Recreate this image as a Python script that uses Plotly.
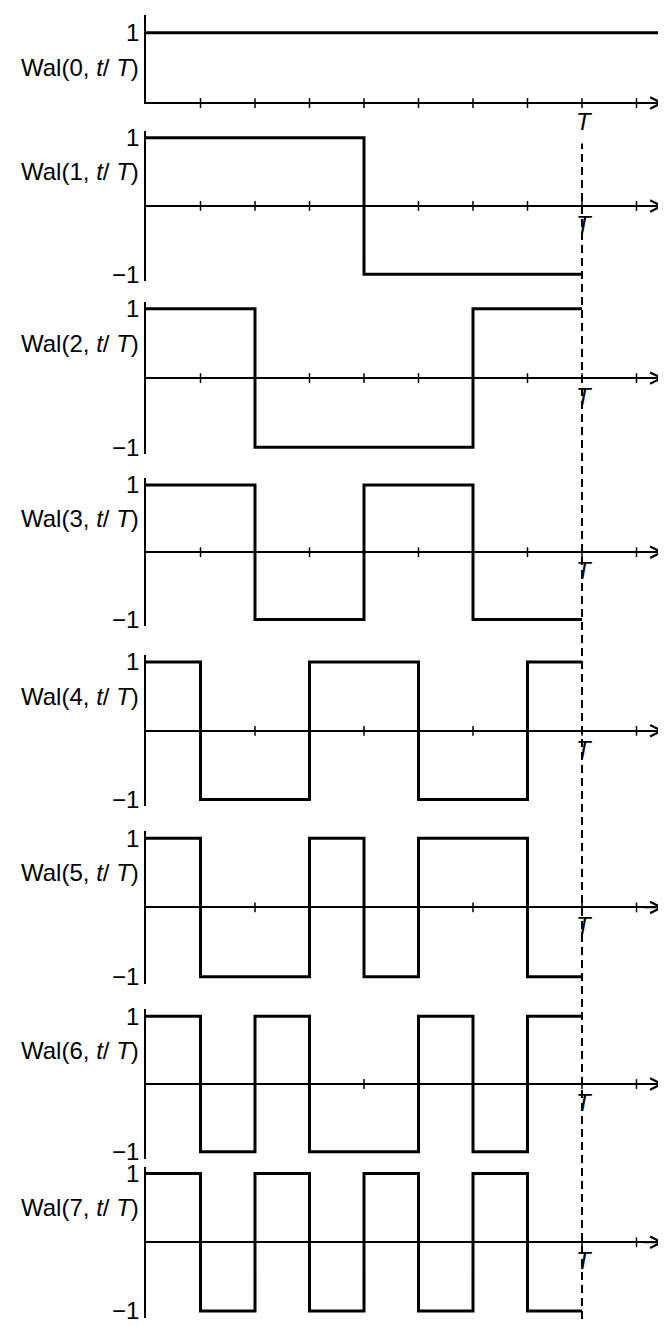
import plotly.graph_objects as go

# ---------------- data ----------------
t_edges = [0, 0.125, 0.25, 0.375, 0.5, 0.625, 0.75, 0.875, 1.0]   # t/T segment edges
wal_0 = [1, 1, 1, 1, 1, 1, 1, 1]
wal_1 = [1, 1, 1, 1, -1, -1, -1, -1]
wal_2 = [1, 1, -1, -1, -1, -1, 1, 1]
wal_3 = [1, 1, -1, -1, 1, 1, -1, -1]
wal_4 = [1, -1, -1, 1, 1, -1, -1, 1]
wal_5 = [1, -1, -1, 1, -1, 1, 1, -1]
wal_6 = [1, -1, 1, -1, -1, 1, -1, 1]
wal_7 = [1, -1, 1, -1, 1, -1, 1, -1]
walsh = [wal_0, wal_1, wal_2, wal_3, wal_4, wal_5, wal_6, wal_7]
labels = ["Wal(%d, <i>t</i>/ <i>T</i>)" % k for k in range(8)]
tick_positions = [0.125, 0.25, 0.375, 0.5, 0.625, 0.75, 0.875, 1.0, 1.125]
T_value = 1.0

# ---------------- layout geometry (screen pixels) ----------------
SW, SH = 666, 1326          # screen size
OFF = 8                      # page body margin
W, H = SW - OFF, SH - OFF    # figure size


def px_x(X):
    return (X - OFF) / W


def px_y(Y):
    return 1 - (Y - OFF) / H


x0_px, T_px = 146, 582
x_scale = (T_px - x0_px) / T_value
x_max = (SW - 2 - x0_px) / x_scale

# screen pixel row of y=+1 and y=-1 for each panel
p_top = [26, 132, 305, 483, 662, 840, 1020, 1179]
p_bot = [168, 270, 445, 619, 801, 980, 1157, 1318]

FONT = "Liberation Sans, Arial, sans-serif"
fsize = 24

fig = go.Figure()
layout = dict(
    width=W, height=H, margin=dict(l=0, r=0, t=0, b=0),
    paper_bgcolor="white", plot_bgcolor="rgba(0,0,0,0)",
    showlegend=False,
    xaxis=dict(domain=[px_x(x0_px), px_x(SW - 2)], range=[0, x_max], showgrid=False,
               zeroline=False, showline=False, showticklabels=False, ticks=""),
)
annotations = []

for k in range(8):
    yname = "y" if k == 0 else "y%d" % (k + 1)
    yax = "yaxis" if k == 0 else "yaxis%d" % (k + 1)
    u = (p_bot[k] - p_top[k]) / 2.0
    p0 = (p_bot[k] + p_top[k]) / 2.0
    if k == 0:
        u = 71
        p0 = 97
        r_lo, r_hi = -0.02, 1.25
        tv, tt = [1], ["1"]
    else:
        r_lo, r_hi = -1.1, 1.1
        tv, tt = [1, -1], ["1", "\u22121"]
    top_px = p0 - r_hi * u
    bot_px = min(SH, p0 - r_lo * u)
    dom = [max(0, px_y(bot_px)), min(1, px_y(top_px))]
    layout[yax] = dict(domain=dom, range=[r_lo, r_hi], anchor="x",
                       showgrid=False, zeroline=True, zerolinecolor="black",
                       zerolinewidth=1.7, showline=True, linecolor="black",
                       linewidth=1.6, tickvals=tv, ticktext=tt, ticks="",
                       tickfont=dict(family=FONT, size=fsize, color="black"))

    vals = walsh[k]
    xs = list(t_edges)
    ys = list(vals) + [vals[-1]]
    if k == 0:
        xs = xs + [x_max]
        ys = ys + [vals[-1]]
    fig.add_trace(go.Scatter(x=xs, y=ys, xaxis="x", yaxis=yname, mode="lines",
                             line=dict(color="black", width=3, shape="hv"),
                             hoverinfo="skip"))
    # small tick marks on the time axis
    fig.add_trace(go.Scatter(x=tick_positions, y=[0] * len(tick_positions),
                             xaxis="x", yaxis=yname, mode="markers",
                             marker=dict(symbol="line-ns", size=7,
                                         line=dict(color="black", width=1.5)),
                             hoverinfo="skip", cliponaxis=False))
    # arrow head at right end of the time axis
    annotations.append(dict(x=x_max, y=0, ax=x_max - 0.05, ay=0,
                            xref="x", yref=yname, axref="x", ayref=yname,
                            text="", showarrow=True, arrowhead=5,
                            arrowsize=1.4, arrowwidth=1.6, arrowcolor="black"))
    # T label
    annotations.append(dict(x=T_value, y=0, xref="x", yref=yname,
                            text="<i>T</i>", showarrow=False, xanchor="center",
                            yanchor="top", yshift=-3, xshift=2,
                            font=dict(family=FONT, size=fsize, color="black")))
    # panel label
    annotations.append(dict(x=px_x(x0_px - 5), y=0.5, xref="paper", yref=yname,
                            text=labels[k], showarrow=False, xanchor="right",
                            yanchor="middle",
                            font=dict(family=FONT, size=fsize, color="black")))

layout["annotations"] = annotations
layout["shapes"] = [dict(type="line", xref="x", yref="paper",
                         x0=T_value, x1=T_value, y0=0, y1=px_y(138),
                         line=dict(color="black", width=2, dash="8px,5px"))]
fig.update_layout(**layout)
fig.write_html("out.html")
